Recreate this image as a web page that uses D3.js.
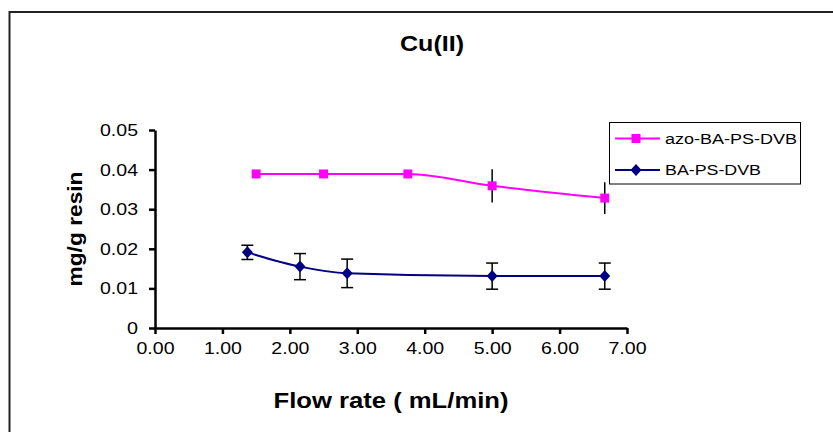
<!DOCTYPE html>
<html>
<head>
<meta charset="utf-8">
<script src="https://d3js.org/d3.v7.min.js"></script>
<style>
  body { margin: 0; background: #fff; }
  text { font-family: Arial, "Liberation Sans", sans-serif; }
</style>
</head>
<body>
<div id="myChart"></div>
<script>
// data
var xTicks = ["0.00", "1.00", "2.00", "3.00", "4.00", "5.00", "6.00", "7.00"];
var yTicks = ["0", "0.01", "0.02", "0.03", "0.04", "0.05"];
var seriesNames = ["azo-BA-PS-DVB", "BA-PS-DVB"];

var flowAzo = [1.5, 2.5, 3.75, 5.0, 6.67];
var azo     = [0.0389, 0.0389, 0.0389, 0.0359, 0.0328];
var azoErr  = [0, 0, 0, 0.0042, 0.0040];

var flowBA = [1.37, 2.15, 2.85, 5.0, 6.67];
var ba     = [0.0191, 0.0155, 0.0138, 0.0131, 0.0131];
var baErr  = [0.0018, 0.0033, 0.0036, 0.0033, 0.0033];

var W = 833, H = 432;

var svg = d3.select("#myChart")
    .append("svg")
      .attr("width", W)
      .attr("height", H)

// outer chart border (runs off the right and bottom edge)
svg.append("rect")
    .attr("x", 9.5)
    .attr("y", 12)
    .attr("width", 840)
    .attr("height", 440)
    .attr("fill", "none")
    .attr("stroke", "#222")
    .attr("stroke-width", 2)

// stretch a text horizontally to a given width (source picture is widened)
function fit(sel, w) {
    sel.attr("textLength", w).attr("lengthAdjust", "spacingAndGlyphs")
}

var x = d3.scaleLinear().domain([0, 7]).range([155, 627])
var y = d3.scaleLinear().domain([0, 0.05]).range([328, 130])

// title
svg.append("text")
    .attr("x", 432)
    .attr("y", 51)
    .attr("text-anchor", "middle")
    .attr("font-size", "22px")
    .attr("font-weight", "bold")
    .text("Cu(II)")
    .call(fit, 64)

// X axis
var xAxis = svg.append("g")
    .attr("transform", "translate(0," + y(0) + ")")
    .call(d3.axisBottom(x)
        .tickValues(xTicks.map(Number))
        .tickFormat(function(d, i) { return xTicks[i]; })
        .tickSize(6)
        .tickPadding(8)
        .tickSizeOuter(0))
xAxis.select(".domain").attr("stroke", "#000").attr("stroke-width", 2.5)
xAxis.selectAll(".tick line").attr("stroke", "#000").attr("stroke-width", 2.5)
xAxis.selectAll(".tick text")
    .attr("font-size", "17px")
    .attr("font-family", "Arial, 'Liberation Sans', sans-serif")
    .attr("fill", "#000")
    .attr("dy", "0.72em")
    .call(fit, 38)

// Y axis
var yAxis = svg.append("g")
    .attr("transform", "translate(" + x(0) + ",0)")
    .call(d3.axisLeft(y)
        .tickValues(yTicks.map(Number))
        .tickFormat(function(d, i) { return yTicks[i]; })
        .tickSize(6)
        .tickPadding(11)
        .tickSizeOuter(0))
yAxis.select(".domain").attr("stroke", "#000").attr("stroke-width", 2.5)
yAxis.selectAll(".tick line").attr("stroke", "#000").attr("stroke-width", 2.5)
yAxis.selectAll(".tick text")
    .attr("font-size", "17px")
    .attr("font-family", "Arial, 'Liberation Sans', sans-serif")
    .attr("fill", "#000")
    .each(function(d, i) {
        d3.select(this).call(fit, yTicks[i] == "0" ? 11 : 38)
    })

// axis titles
svg.append("text")
    .attr("x", 391)
    .attr("y", 408)
    .attr("text-anchor", "middle")
    .attr("font-size", "22px")
    .attr("font-weight", "bold")
    .text("Flow rate ( mL/min)")
    .call(fit, 235)

svg.append("text")
    .attr("transform", "translate(82,229) rotate(-90)")
    .attr("text-anchor", "middle")
    .attr("font-size", "20px")
    .attr("font-weight", "bold")
    .text("mg/g resin")
    .call(fit, 115)

var azoData = flowAzo.map(function(f, i) { return {x: f, y: azo[i], e: azoErr[i]}; })
var baData = flowBA.map(function(f, i) { return {x: f, y: ba[i], e: baErr[i]}; })

var line = d3.line()
    .x(function(d) { return x(d.x); })
    .y(function(d) { return y(d.y); })
    .curve(d3.curveMonotoneX)

// error bars azo (no caps)
svg.selectAll("azoerr")
    .data(azoData.filter(function(d) { return d.e > 0; }))
    .enter()
    .append("line")
      .attr("x1", function(d) { return x(d.x); })
      .attr("x2", function(d) { return x(d.x); })
      .attr("y1", function(d) { return y(d.y + d.e); })
      .attr("y2", function(d) { return y(d.y - d.e); })
      .attr("stroke", "#000")
      .attr("stroke-width", 1.5)

// error bars BA (with caps)
var baErrG = svg.selectAll("baerr")
    .data(baData)
    .enter()
    .append("g")
baErrG.append("line")
      .attr("x1", function(d) { return x(d.x); })
      .attr("x2", function(d) { return x(d.x); })
      .attr("y1", function(d) { return y(d.y + d.e); })
      .attr("y2", function(d) { return y(d.y - d.e); })
      .attr("stroke", "#000")
      .attr("stroke-width", 1.5)
baErrG.selectAll("cap")
    .data(function(d) { return [d.y + d.e, d.y - d.e].map(function(v) { return {x: d.x, v: v}; }); })
    .enter()
    .append("line")
      .attr("x1", function(d) { return x(d.x) - 6; })
      .attr("x2", function(d) { return x(d.x) + 6; })
      .attr("y1", function(d) { return y(d.v); })
      .attr("y2", function(d) { return y(d.v); })
      .attr("stroke", "#000")
      .attr("stroke-width", 1.5)

// lines
svg.append("path")
    .datum(azoData)
    .attr("d", line)
    .attr("fill", "none")
    .attr("stroke", "#ff00ff")
    .attr("stroke-width", 2)

svg.append("path")
    .datum(baData)
    .attr("d", line)
    .attr("fill", "none")
    .attr("stroke", "#000080")
    .attr("stroke-width", 2)

// markers
function square(cx, cy) {
    return "M" + (cx - 4.5) + "," + (cy - 4.5) + "h9v9h-9z";
}
function diamond(cx, cy) {
    return "M" + cx + "," + (cy - 6) + "L" + (cx + 5.5) + "," + cy + "L" + cx + "," + (cy + 6) + "L" + (cx - 5.5) + "," + cy + "Z";
}

svg.selectAll("azopt")
    .data(azoData)
    .enter()
    .append("path")
      .attr("d", function(d) { return square(x(d.x), y(d.y)); })
      .attr("fill", "#ff00ff")

svg.selectAll("bapt")
    .data(baData)
    .enter()
    .append("path")
      .attr("d", function(d) { return diamond(x(d.x), y(d.y)); })
      .attr("fill", "#000080")

// legend
var legend = svg.append("g")
legend.append("rect")
    .attr("x", 609.5)
    .attr("y", 122.5)
    .attr("width", 191)
    .attr("height", 61.5)
    .attr("fill", "#fff")
    .attr("stroke", "#000")
    .attr("stroke-width", 1)

var legendColors = ["#ff00ff", "#000080"]
var legendY = [138.5, 170]
var legendWidths = [132, 96]

seriesNames.forEach(function(name, i) {
    legend.append("line")
        .attr("x1", 615)
        .attr("x2", 660)
        .attr("y1", legendY[i])
        .attr("y2", legendY[i])
        .attr("stroke", legendColors[i])
        .attr("stroke-width", 2)
    legend.append("path")
        .attr("d", i == 0 ? square(636, legendY[i]) : diamond(636, legendY[i]))
        .attr("fill", legendColors[i])
    legend.append("text")
        .attr("x", 665)
        .attr("y", legendY[i] + 5)
        .attr("font-size", "14px")
        .attr("fill", "#000")
        .text(name)
        .call(fit, legendWidths[i])
})
</script>
</body>
</html>
